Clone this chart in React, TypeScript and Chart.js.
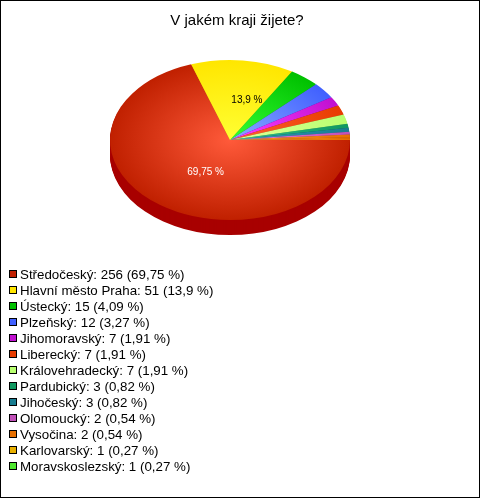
import React, { useEffect, useRef } from "react";
import { Chart, registerables } from "chart.js";

Chart.register(...registerables);

const TITLE = "V jakém kraji žijete?";
const categories = ["Středočeský", "Hlavní město Praha", "Ústecký", "Plzeňský", "Jihomoravský", "Liberecký", "Královehradecký", "Pardubický", "Jihočeský", "Olomoucký", "Vysočina", "Karlovarský", "Moravskoslezský"];
const counts = [256, 51, 15, 12, 7, 7, 7, 3, 3, 2, 2, 1, 1];
const percents = ["69,75", "13,9", "4,09", "3,27", "1,91", "1,91", "1,91", "0,82", "0,82", "0,54", "0,54", "0,27", "0,27"];
const legendColors = ["#c02000", "#ffe600", "#00c000", "#4060ff", "#c010d0", "#e83c00", "#b8ff70", "#109860", "#187c90", "#c050b8", "#e87000", "#e8b000", "#50e830"];
const edgeColors = ["#c02000", "#ffe600", "#00c000", "#4060ff", "#c010d0", "#e83c00", "#b8ff70", "#109860", "#187c90", "#c050b8", "#e87000", "#e87000", "#e87000"];
const coreColors = ["#ff5a3a", "#ffff33", "#33ff33", "#88aaff", "#ff40ff", "#ff6030", "#e0ff99", "#30c090", "#30a0b8", "#f080e0", "#ff9a30", "#ff9a30", "#ff9a30"];
const depthColors = ["#a80000", "#c0a000", "#008000", "#2030b0", "#800080", "#a02000", "#80b040", "#086040", "#085060", "#803078", "#a04000", "#a04000", "#a04000"];
const labelColors = ["#ffffff", "#000000"];
const labelled = [0, 1];

const CX = 230, CY = 140, SQUASH = 2 / 3, DEPTH = 15, R = 120;

const placePie = (ctx: CanvasRenderingContext2D, x: number, y: number) => {
  ctx.translate(CX, CY);
  ctx.scale(1, SQUASH);
  ctx.translate(-x, -y);
};

const piePlugin = {
  id: "squashedPie",
  beforeDraw(chart: any) {
    const { ctx, width, height } = chart;
    ctx.save();
    ctx.fillStyle = "#ffffff";
    ctx.fillRect(0, 0, width, height);
    ctx.restore();
  },
  beforeDatasetsDraw(chart: any) {
    const { ctx } = chart;
    const arcs = chart.getDatasetMeta(0).data;
    const { x, y } = arcs[0];
    for (let off = DEPTH; off >= 1; off--) {
      ctx.save();
      ctx.translate(0, off);
      placePie(ctx, x, y);
      arcs.forEach((a: any, i: number) => {
        ctx.beginPath();
        ctx.moveTo(x, y);
        ctx.arc(x, y, a.outerRadius, a.startAngle, a.endAngle);
        ctx.closePath();
        ctx.fillStyle = depthColors[i];
        ctx.fill();
      });
      ctx.restore();
    }
    ctx.save();
    placePie(ctx, x, y);
  },
  afterDatasetsDraw(chart: any) {
    const { ctx, width, height } = chart;
    ctx.restore();
    const arcs = chart.getDatasetMeta(0).data;
    const { x, y } = arcs[0];

    // value labels on the big slices
    ctx.save();
    ctx.font = "10px 'Liberation Sans', Arial, sans-serif";
    ctx.textAlign = "center";
    ctx.textBaseline = "middle";
    labelled.forEach((i) => {
      const p = arcs[i].getCenterPoint();
      ctx.fillStyle = labelColors[i];
      ctx.fillText(`${percents[i]} %`, CX + (p.x - x) + 10.5, CY + (p.y - y) * SQUASH);
    });
    ctx.restore();

    // legend list
    ctx.save();
    ctx.font = "13.33px 'Liberation Sans', Arial, sans-serif";
    ctx.textAlign = "left";
    ctx.textBaseline = "middle";
    categories.forEach((name, i) => {
      const rowY = 274 + i * 16;
      ctx.fillStyle = legendColors[i];
      ctx.fillRect(9.5, rowY - 3.5, 7, 7);
      ctx.strokeStyle = "#000000";
      ctx.lineWidth = 1;
      ctx.strokeRect(9.5, rowY - 3.5, 7, 7);
      ctx.fillStyle = "#000000";
      ctx.fillText(`${name}: ${counts[i]} (${percents[i]} %)`, 20, rowY + 1);
    });
    ctx.restore();

    // frame
    ctx.save();
    ctx.strokeStyle = "#000000";
    ctx.lineWidth = 1;
    ctx.strokeRect(0.5, 0.5, width - 1, height - 1);
    ctx.restore();
  },
};

export default function App() {
  const ref = useRef<HTMLCanvasElement>(null);
  useEffect(() => {
    document.body.style.margin = "0";
    const chart = new Chart(ref.current!, {
      type: "pie",
      data: {
        labels: categories,
        datasets: [
          {
            data: counts,
            borderWidth: 0,
            backgroundColor: (c: any) => {
              const area = c.chart.chartArea;
              if (!area) return edgeColors[c.dataIndex];
              const x = (area.left + area.right) / 2;
              const y = (area.top + area.bottom) / 2;
              const g = c.chart.ctx.createRadialGradient(x, y, 0, x, y, R);
              g.addColorStop(0, coreColors[c.dataIndex]);
              g.addColorStop(1, edgeColors[c.dataIndex]);
              return g;
            },
          },
        ],
      },
      options: {
        responsive: false,
        animation: false,
        rotation: 90,
        radius: R,
        layout: { padding: { left: 0, right: 6, top: 0, bottom: 229 } },
        events: [],
        plugins: {
          legend: { display: false },
          tooltip: { enabled: false },
          title: {
            display: true,
            text: TITLE,
            color: "#000000",
            font: { family: "'Liberation Sans', Arial, sans-serif", size: 15, weight: "normal" },
            padding: { top: 12, bottom: 0 },
          },
        },
      },
      plugins: [piePlugin],
    } as any);
    return () => chart.destroy();
  }, []);
  return <canvas ref={ref} width={480} height={498} style={{ display: "block" }} />;
}
